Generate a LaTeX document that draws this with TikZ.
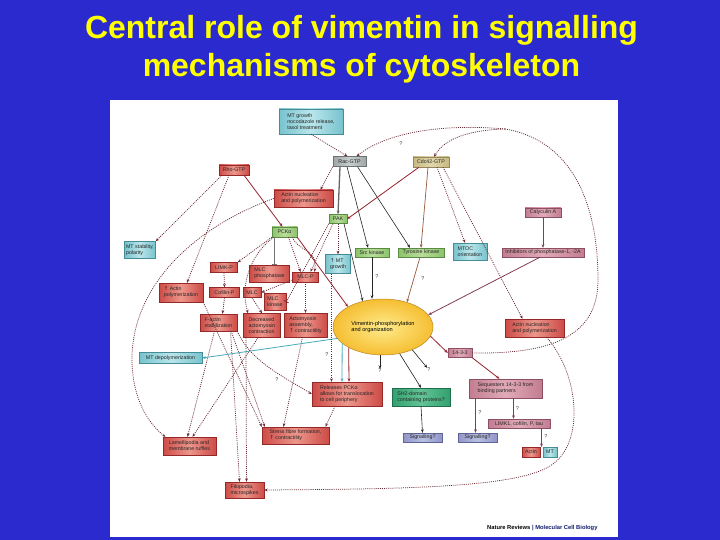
\documentclass[tikz,border=0pt]{standalone}
\usepackage{fontspec}
\setmainfont{Liberation Sans}
\newfontfamily\symf{DejaVu Sans}
\usetikzlibrary{arrows.meta,shapes.geometric}
\newcommand{\myup}{{\symf ↑}}
\definecolor{bgblue}{RGB}{42,42,206}
\definecolor{ttl}{RGB}{255,255,0}
\definecolor{redD}{RGB}{205,75,70}\definecolor{redL}{RGB}{236,150,140}\definecolor{redB}{RGB}{150,40,40}
\definecolor{tealD}{RGB}{120,195,205}\definecolor{tealL}{RGB}{185,230,235}\definecolor{tealB}{RGB}{70,140,150}
\definecolor{greenD}{RGB}{140,195,105}\definecolor{greenL}{RGB}{185,220,155}\definecolor{greenB}{RGB}{90,140,70}
\definecolor{mauveD}{RGB}{195,125,145}\definecolor{mauveL}{RGB}{225,170,185}\definecolor{mauveB}{RGB}{140,80,100}
\definecolor{lavD}{RGB}{145,150,200}\definecolor{lavL}{RGB}{185,190,225}\definecolor{lavB}{RGB}{95,100,150}
\definecolor{shD}{RGB}{50,160,110}\definecolor{shL}{RGB}{100,195,150}\definecolor{shB}{RGB}{30,110,75}
\definecolor{grayD}{RGB}{160,165,165}\definecolor{grayL}{RGB}{200,205,205}\definecolor{grayB}{RGB}{110,115,115}
\definecolor{tanD}{RGB}{200,185,130}\definecolor{tanL}{RGB}{225,215,170}\definecolor{tanB}{RGB}{150,135,90}
\definecolor{ellO}{RGB}{245,190,50}\definecolor{ellI}{RGB}{255,235,140}\definecolor{ellB}{RGB}{185,135,30}
\definecolor{lnDot}{RGB}{105,42,52}\definecolor{lnRed}{RGB}{150,35,45}\definecolor{lnTeal}{RGB}{70,170,185}
\definecolor{lnBrown}{RGB}{150,90,60}\definecolor{lnMauve}{RGB}{130,60,90}\definecolor{navy}{RGB}{20,30,110}
\tikzset{
  box/.style={draw, line width=0.4pt, inner sep=1pt, align=left,
    font=\fontsize{5.3}{5.9}\selectfont, text=black!85},
  wh/.style 2 args={minimum width=#1pt, minimum height=#2pt},
  redbox/.style={box, draw=redB, left color=redD, right color=redD, middle color=redL},
  tealbox/.style={box, draw=tealB, left color=tealD, right color=tealD, middle color=tealL},
  greenbox/.style={box, draw=greenB, left color=greenD, right color=greenD, middle color=greenL},
  mauvebox/.style={box, draw=mauveB, left color=mauveD, right color=mauveD, middle color=mauveL},
  lavbox/.style={box, draw=lavB, left color=lavD, right color=lavD, middle color=lavL},
  shbox/.style={box, draw=shB, left color=shD, right color=shD, middle color=shL},
  graybox/.style={box, draw=grayB, left color=grayD, right color=grayD, middle color=grayL},
  tanbox/.style={box, draw=tanB, left color=tanD, right color=tanD, middle color=tanL},
  vimell/.style={ellipse, draw=ellB, line width=0.5pt, inner color=ellI, outer color=ellO,
    minimum width=100pt, minimum height=56pt, align=left, font=\fontsize{5.6}{6.6}\selectfont},
  qm/.style={inner sep=0pt, font=\fontsize{5.5}{6}\selectfont, text=black!75},
  dotc/.style={draw=lnDot, line width=0.75pt, dash pattern=on 1pt off 1.1pt},
  blk/.style={draw=black!85, line width=0.6pt},
  redl/.style={draw=lnRed, line width=0.8pt},
  teall/.style={draw=lnTeal, line width=0.8pt},
  brownl/.style={draw=lnBrown, line width=0.7pt},
  mauvel/.style={draw=lnMauve, line width=0.8pt},
  >={Stealth[length=3.5pt,width=2.8pt]}
}
\begin{document}
\begin{tikzpicture}[x=1pt,y=-1pt]
\useasboundingbox (0,0) rectangle (720,540);
\fill[bgblue] (0,0) rectangle (720,540);
\fill[white] (110,100) rectangle (618,537);
\node[anchor=base, text=ttl, font=\fontsize{32}{38}\bfseries] (t1) at (361.5,39) {Central role of vimentin in signalling};
\node[anchor=base, text=ttl, font=\fontsize{32}{38}\bfseries] (t2) at (361.5,77) {mechanisms of cytoskeleton};

% nodes
\node[tealbox, wh={64}{25}] (mtgt) at (311,121.5) {MT growth\\nocodazole release,\\taxol treatment};
\node[graybox, wh={33}{10}] (rac) at (349.5,161.5) {Rac-GTP};
\node[tanbox, wh={36}{10}] (cdc) at (431,162) {Cdc42-GTP};
\node[redbox, wh={30}{10}] (rho) at (234,170) {Rho-GTP};
\node[redbox, wh={59}{17}] (anL) at (303.5,198.5) {Actin nucleation\\and polymerization};
\node[greenbox, wh={18}{9}] (pak) at (338,219) {PAK};
\node[mauvebox, wh={36}{9}] (caly) at (543,212.5) {Calyculin A};
\node[greenbox, wh={25}{10}] (pck) at (284.5,232) {PCKα};
\node[tealbox, wh={31}{17}] (mts) at (140,250) {MT stability,\\polarity};
\node[greenbox, wh={34}{9}] (src) at (372,252.5) {Src kinase};
\node[greenbox, wh={46}{9}] (tyr) at (421,252.5) {Tyrosine kinase};
\node[tealbox, wh={34}{17}] (mtoc) at (470,251.5) {MTOC\\orientation};
\node[mauvebox, wh={82}{9}] (inh) at (543,252.5) {Inhibitors of phosphatase-1, -2A};
\node[tealbox, wh={25}{19}] (mtg) at (338,264) {\myup\ MT\\growth};
\node[redbox, wh={27}{10}] (limk) at (224,267.5) {LIMK-P};
\node[redbox, wh={40}{17}] (mlcph) at (269.5,273.5) {MLC\\phosphatase};
\node[redbox, wh={26}{10}] (mlcp) at (305.5,277) {MLC-P};
\node[redbox, wh={44}{19}] (apol) at (181,292.5) {\myup\ Actin\\polymerization};
\node[redbox, wh={30}{10}] (cof) at (224.5,292.5) {Cofilin-P};
\node[redbox, wh={18}{10}] (mlc) at (252,292.5) {MLC};
\node[redbox, wh={22}{17}] (mlck) at (275,302) {MLC\\kinase};
\node[redbox, wh={37}{17}] (fact) at (218.5,322.5) {F-actin\\stabilization};
\node[redbox, wh={37}{24}] (decr) at (262,325.5) {Decreased\\actomyosin\\contraction};
\node[redbox, wh={43}{24}] (amy) at (305.5,325) {Actomyosin\\assembly,\\\myup\ contractility};
\node[vimell] (vim) at (383,327) {Vimentin-phosphorylation\\and organization};
\node[redbox, wh={59}{18}] (anR) at (534.5,328) {Actin nucleation\\and polymerization};
\node[tealbox, wh={63}{11}] (mtd) at (170.5,358) {MT depolymerization};
\node[mauvebox, wh={24}{9}] (f14) at (460,353) {14-3-3};
\node[mauvebox, wh={73}{19}] (seq) at (505.5,388.5) {Sequesters 14-3-3 from\\binding partners};
\node[redbox, wh={70}{24}] (rel) at (347,394) {Releases PCKα\\allows for translocation\\to cell periphery};
\node[shbox, wh={58}{18}] (sh2) at (421,397) {SH2-domain\\containing proteins?};
\node[mauvebox, wh={62}{9}] (lk1) at (519,423.5) {LIMK1, cofilin, P, tau};
\node[lavbox, wh={39}{9}] (sg1) at (422.5,437.5) {Signalling?};
\node[lavbox, wh={39}{9}] (sg2) at (477.5,437.5) {Signalling?};
\node[redbox, wh={67}{17}] (sf) at (295.5,435.5) {Stress fibre formation,\\\myup\ contractility};
\node[redbox, wh={53}{18}] (lam) at (189.5,446) {Lamellipodia and\\membrane ruffles};
\node[redbox, wh={18}{10}] (act) at (531,452) {Actin};
\node[tealbox, wh={14}{10}] (mt) at (550,452) {MT};
\node[redbox, wh={39}{16}] (filo) at (244.5,490) {Filopodia,\\microspikes};

% question marks
\node[qm] (qa) at (401,144) {?};
\node[qm] (qb) at (377,277) {?};
\node[qm] (qc) at (423,279) {?};
\node[qm] (qd) at (327,355) {?};
\node[qm] (q1) at (380,371) {?};
\node[qm] (q2) at (429,370) {?};
\node[qm] (qe) at (277,380) {?};
\node[qm] (qf) at (480,413) {?};
\node[qm] (qg) at (517.5,409) {?};
\node[qm] (qh) at (546,437) {?};

\coordinate (j) at (505,129);
\coordinate (amt) at (541.5,447);

% top connectors
\draw[dotc,->] (mtgt.south) -- ([xshift=-2pt]rac.north);
\draw[dotc] (f14.east) .. controls (545,354) and (598,340) .. (598,280) .. controls (598,200) and (570,140) .. (j);
\draw[dotc,->] (j) .. controls (450,124) and (390,130) .. ([xshift=7pt]rac.north);
\draw[dotc,->] (j) .. controls (470,130) and (445,138) .. ([xshift=3pt]cdc.north);
\draw[draw=black!60, line width=1.3pt,->] ([xshift=-9.5pt]rac.south) -- (pak.north);
\draw[dotc,->] (rac.south west) -- ([xshift=17pt]anL.north);
\draw[blk,->] ([xshift=-2.5pt]rac.south) -- ([xshift=-4pt]src.north);
\draw[blk,->] ([xshift=8pt]rac.south) -- ([xshift=-11pt]tyr.north);
\draw[redl,->] ([xshift=-12pt]cdc.south) -- (pak.east);
\draw[brownl,->] ([xshift=-3pt]cdc.south) -- (tyr.north);
\draw[dotc,->] ([xshift=6pt]cdc.south) -- ([xshift=-5pt]mtoc.north);
\draw[dotc,->] ([xshift=12pt]cdc.south) -- ([xshift=-12pt]anR.north);
\draw[dotc,->] ([xshift=-12pt]rho.south) -- (mts.north east);
\draw[dotc,->] ([xshift=-5pt]rho.south) -- ([xshift=6pt]apol.north);
\draw[redl,->] ([xshift=10pt]rho.south) -- ([xshift=-2pt]pck.north);
\draw[dotc,->] (anL.west) .. controls (200,225) and (135,280) .. (132,355) .. controls (131,400) and (150,425) .. ([xshift=-24pt]lam.north);

% middle
\draw[dotc,->] (pak.south) -- (mtg.north);
\draw[dotc,->] ([xshift=-5pt]pak.south) -- ([xshift=5pt]mlcp.north);
\draw[dotc,-{Bar[width=5pt]}] (pak.south west) -- (mlck.east);
\draw[blk,->] ([xshift=6pt]pak.south) -- (vim.128);
\draw[draw=black!55, line width=0.6pt,-{Bar[width=5pt]}] ([xshift=-10pt]pck.south) -- ([xshift=5pt]mlcph.north);
\draw[dotc,->] (pck.south west) -- (limk.north east);
\draw[dotc,->] ([xshift=4pt]pck.south) -- ([xshift=-5pt]mlcp.north);
\draw[dotc,->] ([xshift=8pt]pck.south) .. controls (298,252) and (318,248) .. ([xshift=9pt]mlcp.north);
\draw[redl,->] (pck.south east) -- (vim.150);
\draw[dotc,->] ([xshift=-11pt]pck.south) .. controls (250,255) and (240,285) .. ([xshift=-14pt]decr.north);
\draw[dotc,->] (limk.south) -- (cof.north);
\draw[dotc,->] (cof.south) -- ([xshift=4pt]fact.north);
\draw[dotc,->] ([yshift=-3pt]mlcp.west) -- (mlc.east);
\draw[dotc,->] (mlc.south) -- (decr.north);
\draw[dotc,->] (mlcp.south) -- (amy.north);
\draw[dotc,->] (apol.south east) -- (sf.north west);
\draw[dotc,->] ([xshift=-6pt]fact.south east) -- ([xshift=3pt]sf.north west);
\draw[dotc,->] ([xshift=-4pt]fact.south) -- ([xshift=-2pt]lam.north);
\draw[dotc,->] ([xshift=-4pt]decr.south) -- ([xshift=3pt]lam.north);
\draw[dotc,->] ([xshift=12pt]fact.south) -- ([xshift=-5pt]filo.north);
\draw[dotc,->] ([xshift=-16pt]decr.south) -- ([xshift=2pt]filo.north);
\draw[dotc,->] ([xshift=-3pt]amy.south) -- ([xshift=-12pt]sf.north);
\draw[teall,->] (vim.194) -- (mtd.east);
\draw[teall,->] (vim.202) -- ([xshift=-5pt]rel.north);
\draw[redl,->] (vim.211) -- ([xshift=2pt]rel.north);
\draw[dotc,->] ([xshift=-6.5pt]mtg.south) -- ([xshift=-15.5pt]rel.north);
\draw[dotc,->] (fact.south east) .. controls (250,360) and (280,375) .. (rel.west);
\draw[dotc,->] ([xshift=-12pt]rel.south) -- ([xshift=30pt]sf.north);
\draw[blk,->] (src.south) -- (src.south |- vim.north);
\draw[brownl,->] ([xshift=-1pt]tyr.south) -- (vim.46);
\draw[mauvel,->] ([xshift=-3pt]inh.south) -- (vim.15);
\draw[mauvel,->] (caly.south) -- (inh.north);
\draw[blk,->] ([xshift=-3pt]vim.south) -- (q1.north);
\draw[blk,->] (vim.-38) -- (q2.north west);
\draw[blk,->] (vim.-58) -- (sh2.north);
\draw[redl,->] (vim.-11) -- (f14.west);
\draw[blk,->] (sh2.south) -- (sg1.north);
\draw[redl,->] (f14.south east) -- ([xshift=-6pt]seq.north);
\draw[mauvel,->] ([xshift=-30pt]seq.south) -- ([xshift=-2pt]sg2.north);
\draw[mauvel,->] ([xshift=8pt]seq.south) -- ([xshift=-5.5pt]lk1.north);
\draw[mauvel,->] ([xshift=22.5pt]lk1.south) -- (amt);
\draw[dotc,->] ([xshift=12pt]anR.south) .. controls (580,375) and (585,445) .. (550,466) .. controls (515,488) and (400,489) .. (filo.east);

\node[anchor=east, font=\fontsize{5.8}{7}\selectfont\bfseries] (foot) at (601,528) {Nature Reviews \textcolor{navy}{| Molecular Cell Biology}};
\end{tikzpicture}
\end{document}
